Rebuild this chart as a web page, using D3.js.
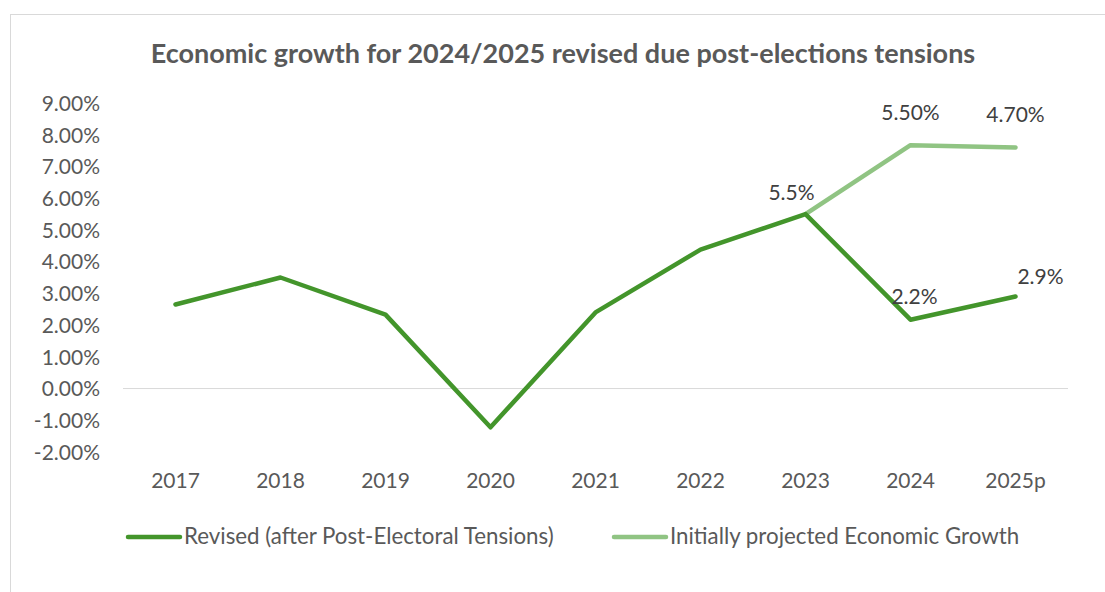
<!DOCTYPE html>
<html>
<head>
<meta charset="utf-8">
<script src="https://cdn.jsdelivr.net/npm/d3@7"></script>
<style>
  body { margin: 0; background: #fff; }
  svg text { font-family: Lato, "Open Sans", sans-serif; }
</style>
</head>
<body>
<div id="chart"></div>
<script>
var years = ["2017", "2018", "2019", "2020", "2021", "2022", "2023", "2024", "2025p"];
var revised = [2.65, 3.5, 2.33, -1.22, 2.4, 4.38, 5.5, 2.17, 2.9];
var projected = [null, null, null, null, null, null, 5.5, 7.67, 7.6];
var revisedLabels = [null, null, null, null, null, null, "5.5%", "2.2%", "2.9%"];
var projectedLabels = [null, null, null, null, null, null, null, "5.50%", "4.70%"];
var yTicks = [-2, -1, 0, 1, 2, 3, 4, 5, 6, 7, 8, 9];

var width = 1105, height = 592;
var darkGreen = "#43952b", lightGreen = "#90c483";

var svg = d3.select("#chart").append("svg")
    .attr("width", width)
    .attr("height", height);

// chart frame
svg.append("rect")
    .attr("x", 10.5).attr("y", 14.5)
    .attr("width", 1110).attr("height", 600)
    .style("fill", "#fff")
    .style("stroke", "#d9d9d9");

svg.append("text")
    .text("Economic growth for 2024/2025 revised due post-elections tensions")
    .attr("x", 563).attr("y", 63)
    .attr("text-anchor", "middle")
    .style("font-size", "27px")
    .style("font-weight", "bold")
    .style("fill", "#595959");

var x = d3.scaleBand().domain(years).range([123, 1068]);
var y = d3.scaleLinear().domain([-2, 9]).range([452, 103]);

// y axis labels (plain hyphen for negatives, like Excel)
var yAxis = d3.axisLeft(y).tickValues(yTicks)
    .tickFormat(function(d) { return d.toFixed(2) + "%"; })
    .tickSize(0).tickPadding(0);
var gy = svg.append("g").attr("transform", "translate(100,0)").call(yAxis);
gy.select(".domain").remove();
gy.selectAll("text").style("font-size", "21px").style("fill", "#595959")
    .attr("dy", "0.35em");

// zero line
svg.append("line")
    .attr("x1", 123).attr("x2", 1068)
    .attr("y1", y(0)).attr("y2", y(0))
    .style("stroke", "#d9d9d9").style("stroke-width", 1);

// x axis labels
var xAxis = d3.axisBottom(x).tickSize(0).tickPadding(0);
var gx = svg.append("g").attr("transform", "translate(0,473)").call(xAxis);
gx.select(".domain").remove();
gx.selectAll("text").style("font-size", "21px").style("fill", "#595959").attr("dy", "0.71em");

var line = d3.line()
    .defined(function(d) { return d.v != null; })
    .x(function(d) { return x(d.k) + x.bandwidth() / 2; })
    .y(function(d) { return y(d.v); });

function zipped(vals) {
    return years.map(function(k, i) { return { k: k, v: vals[i] }; });
}

svg.append("path")
    .attr("d", line(zipped(projected)))
    .style("fill", "none")
    .style("stroke", lightGreen)
    .style("stroke-width", "4.5px")
    .style("stroke-linejoin", "round")
    .style("stroke-linecap", "round");

svg.append("path")
    .attr("d", line(zipped(revised)))
    .style("fill", "none")
    .style("stroke", darkGreen)
    .style("stroke-width", "4.5px")
    .style("stroke-linejoin", "round")
    .style("stroke-linecap", "round");

// data labels
function addLabels(vals, labels, offs) {
    years.forEach(function(k, i) {
        if (!labels[i]) return;
        var o = offs[k];
        svg.append("text")
            .text(labels[i])
            .attr("x", x(k) + x.bandwidth() / 2 + o[0])
            .attr("y", y(vals[i]) + o[1])
            .attr("text-anchor", "middle")
            .style("font-size", "21px")
            .style("fill", "#404040");
    });
}
addLabels(revised, revisedLabels, { "2023": [-14, -14], "2024": [4, -16], "2025p": [25, -13] });
addLabels(projected, projectedLabels, { "2024": [0, -25], "2025p": [0, -25] });

// legend
var legend = [
    { name: "Revised (after Post-Electoral Tensions)", color: darkGreen, x: 128 },
    { name: "Initially projected Economic Growth", color: lightGreen, x: 614 }
];
legend.forEach(function(l) {
    svg.append("line")
        .attr("x1", l.x).attr("x2", l.x + 52)
        .attr("y1", 537).attr("y2", 537)
        .style("stroke", l.color).style("stroke-width", "4.5px")
        .style("stroke-linecap", "round");
    svg.append("text")
        .text(l.name)
        .attr("x", l.x + 56).attr("y", 544)
        .style("font-size", "22.3px")
        .style("fill", "#595959");
});
</script>
</body>
</html>
